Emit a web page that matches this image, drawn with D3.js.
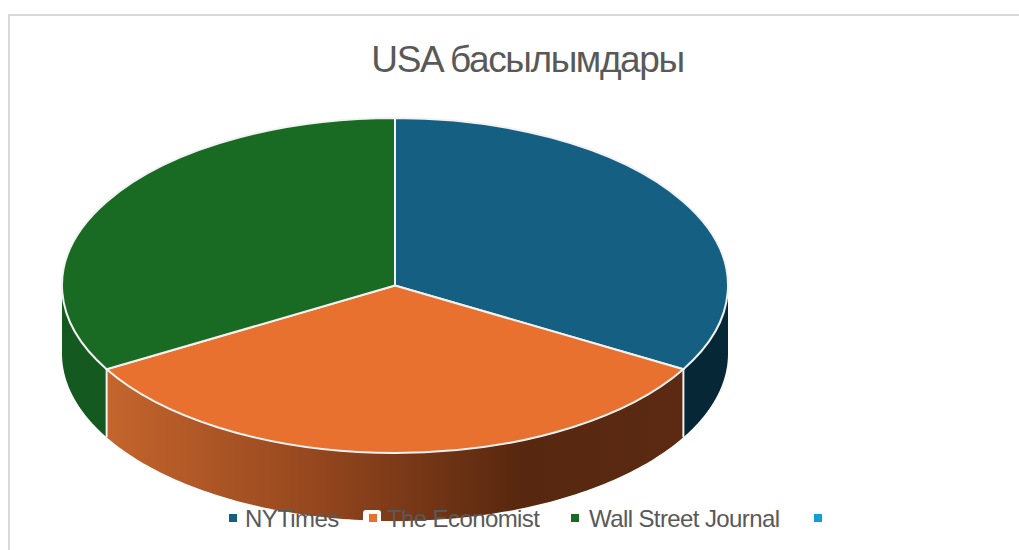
<!DOCTYPE html>
<html>
<head>
<meta charset="utf-8">
<script src="https://cdn.jsdelivr.net/npm/d3@7"></script>
<style>
  html, body { margin: 0; padding: 0; background: #fff; }
  text { font-family: "Liberation Sans", sans-serif; fill: #595959; }
</style>
</head>
<body>
<div id="chart"></div>
<script>
let svgWidth = 1019;
let svgHeight = 550;

// Chart data
let titleText = "USA басылымдары";
let categories = ["NYTimes", "The Economist", "Wall Street Journal", ""];
let values = [1, 1, 1, 0];
let topColors = ["#156082", "#e8712f", "#196b24", "#0f9ed5"];
let sideColors = ["#062836", null, "#14591f", "#0f9ed5"];

// Pie geometry
let cx = 395, cy = 285.5, rx = 333, ry = 167.5, depth = 68;

let svg = d3.select("#chart")
    .append("svg")
    .attr("width", svgWidth)
    .attr("height", svgHeight)
    .style("display", "block");

// Gradient for the long front side of the orange slice
let grad = svg.append("defs").append("linearGradient")
    .attr("id", "sideGrad")
    .attr("gradientUnits", "userSpaceOnUse")
    .attr("x1", 106).attr("x2", 684).attr("y1", 0).attr("y2", 0);
grad.append("stop").attr("offset", "0").attr("stop-color", "#c4652d");
grad.append("stop").attr("offset", "0.35").attr("stop-color", "#97481f");
grad.append("stop").attr("offset", "0.72").attr("stop-color", "#57270f");
grad.append("stop").attr("offset", "1").attr("stop-color", "#5c2a12");

// Chart frame, only top and left are inside the crop
svg.append("path")
    .attr("d", `M9,${svgHeight}V15H${svgWidth}`)
    .attr("fill", "none")
    .attr("stroke", "#d9d9d9")
    .attr("stroke-width", 2);

let arcs = d3.pie().sort(null).value(d => d)(values);

let px = a => cx + rx * Math.sin(a);
let py = a => cy - ry * Math.cos(a);

// Side walls, only the part facing the viewer (90deg to 270deg)
let sideArea = d3.area()
    .x(a => px(a))
    .y0(a => py(a))
    .y1(a => py(a) + depth);

let sides = svg.append("g");
arcs.forEach((d, i) => {
    let a0 = Math.max(d.startAngle, Math.PI / 2);
    let a1 = Math.min(d.endAngle, 3 * Math.PI / 2);
    if (a1 <= a0) return;
    sides.append("path")
        .attr("d", sideArea(d3.range(0, 121).map(k => a0 + (a1 - a0) * k / 120)))
        .attr("fill", sideColors[i] || "url(#sideGrad)");
});

// White seams between the side walls
arcs.filter(d => d.value > 0).forEach(d => {
    let a = d.endAngle;
    if (a > Math.PI / 2 && a < 3 * Math.PI / 2) {
        sides.append("line")
            .attr("x1", px(a)).attr("x2", px(a))
            .attr("y1", py(a)).attr("y2", py(a) + depth)
            .attr("stroke", "#f2f2f2")
            .attr("stroke-width", 2);
    }
});

// Top face, a circular arc squashed into an ellipse
let arc = d3.arc().innerRadius(0).outerRadius(rx);
svg.append("g")
    .attr("transform", `translate(${cx},${cy}) scale(1,${ry / rx})`)
    .selectAll("path")
    .data(arcs.filter(d => d.value > 0))
    .enter()
    .append("path")
    .attr("d", arc)
    .attr("fill", d => topColors[d.index])
    .attr("stroke", "#f2f2f2")
    .attr("stroke-width", 2)
    .attr("vector-effect", "non-scaling-stroke");

svg.append("text")
    .attr("x", 527.5)
    .attr("y", 72)
    .attr("text-anchor", "middle")
    .attr("font-size", 37)
    .attr("letter-spacing", "-1.4")
    .text(titleText);

// Legend
let legendMarkX = [229, 369, 571, 814];
let legendTextX = [16, 18, 18, 16];
let legendY = 518;

svg.append("rect")
    .attr("x", 363).attr("y", 510)
    .attr("width", 18).attr("height", 20)
    .attr("rx", 3)
    .attr("fill", "#fff");

let legend = svg.append("g")
    .selectAll("g")
    .data(categories)
    .enter()
    .append("g")
    .attr("transform", (d, i) => `translate(${legendMarkX[i]},${legendY})`);

legend.append("rect")
    .attr("x", 0).attr("y", -4)
    .attr("width", 8).attr("height", 8)
    .attr("fill", (d, i) => topColors[i]);

legend.append("text")
    .attr("x", (d, i) => legendTextX[i])
    .attr("y", 9)
    .attr("font-size", 24)
    .attr("letter-spacing", "-0.6")
    .text(d => d);
</script>
</body>
</html>
